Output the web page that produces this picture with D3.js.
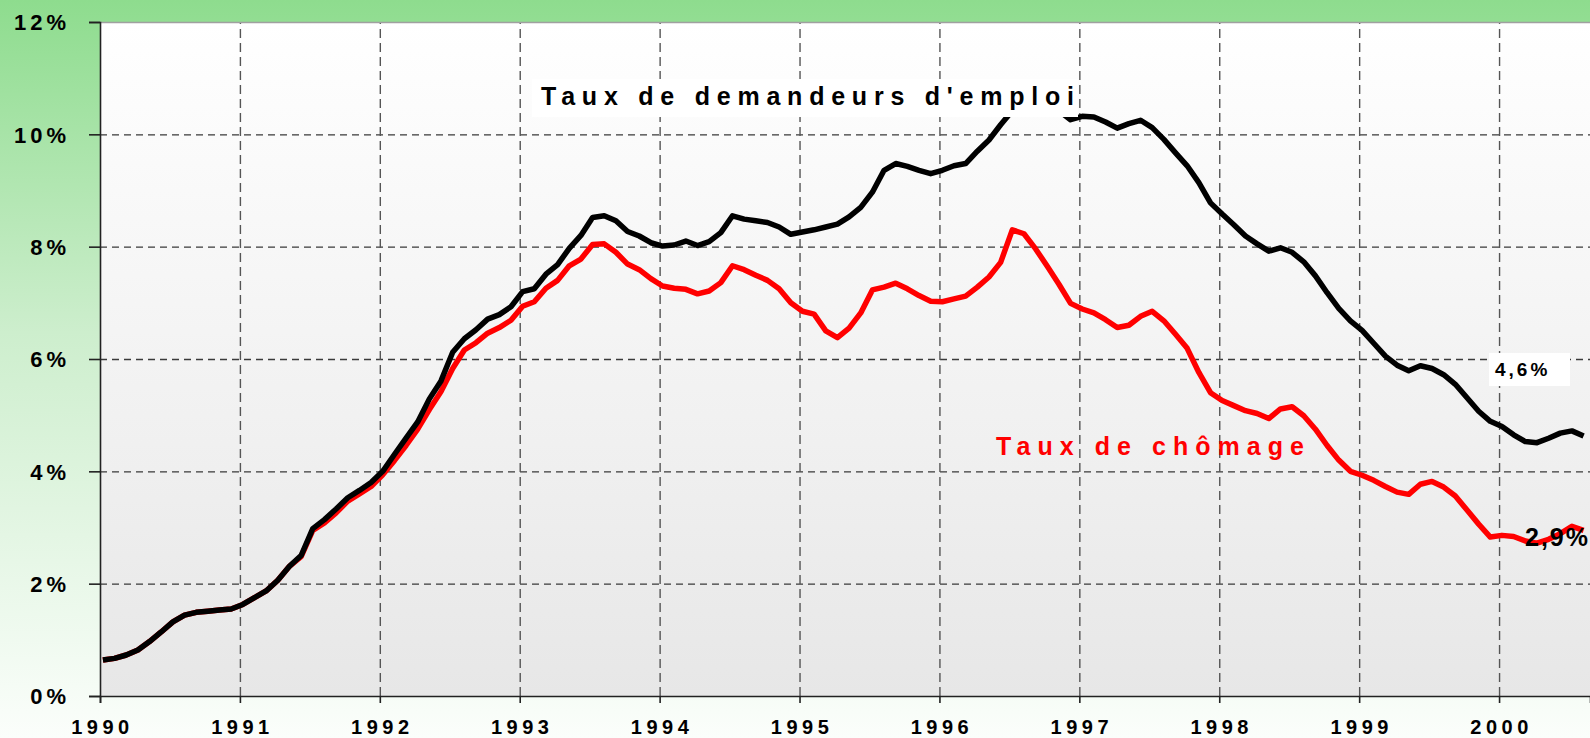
<!DOCTYPE html>
<html>
<head>
<meta charset="utf-8">
<script src="https://cdn.jsdelivr.net/npm/d3@7"></script>
<style>
  body { margin: 0; overflow: hidden; }
  svg { display: block; font-family: "Liberation Sans", Arial, sans-serif; }
</style>
</head>
<body>
<div id="chart"></div>
<script>
// Données mensuelles, janvier 1990 -> août 2000
const startYear = 1990;
const demandeurs = [
  0.64, 0.67, 0.73, 0.82, 0.97, 1.14, 1.32, 1.44, 1.49, 1.51, 1.53, 1.55,
  1.63, 1.75, 1.87, 2.06, 2.31, 2.50, 2.98, 3.14, 3.33, 3.53, 3.66, 3.80,
  4.00, 4.30, 4.59, 4.88, 5.29, 5.61, 6.12, 6.36, 6.52, 6.71, 6.79, 6.93,
  7.20, 7.25, 7.51, 7.68, 7.97, 8.20, 8.52, 8.55, 8.46, 8.27, 8.19, 8.07,
  8.01, 8.03, 8.10, 8.02, 8.09, 8.25, 8.55, 8.49, 8.46, 8.43, 8.35, 8.22,
  8.26, 8.30, 8.35, 8.40, 8.53, 8.70, 8.97, 9.36, 9.48, 9.43, 9.36, 9.30,
  9.36, 9.44, 9.48, 9.70, 9.90, 10.17, 10.42, 10.58, 10.62, 10.55, 10.42, 10.26,
  10.32, 10.31, 10.22, 10.11, 10.19, 10.25, 10.12, 9.91, 9.67, 9.44, 9.14, 8.78,
  8.58, 8.39, 8.19, 8.05, 7.92, 7.98, 7.90, 7.73, 7.48, 7.18, 6.90, 6.68,
  6.51, 6.28, 6.05, 5.89, 5.79, 5.88, 5.83, 5.72, 5.55, 5.31, 5.07, 4.89,
  4.80, 4.65, 4.53, 4.51, 4.59, 4.68, 4.72, 4.63
];
const chomage = [
  0.64, 0.67, 0.73, 0.82, 0.97, 1.14, 1.32, 1.44, 1.49, 1.51, 1.53, 1.55,
  1.63, 1.75, 1.87, 2.06, 2.31, 2.48, 2.95, 3.08, 3.26, 3.47, 3.60, 3.73,
  3.94, 4.19, 4.46, 4.75, 5.10, 5.42, 5.83, 6.16, 6.29, 6.46, 6.56, 6.69,
  6.94, 7.02, 7.26, 7.40, 7.66, 7.78, 8.04, 8.05, 7.90, 7.69, 7.59, 7.43,
  7.30, 7.26, 7.24, 7.16, 7.21, 7.36, 7.66, 7.59, 7.49, 7.40, 7.25, 7.00,
  6.85, 6.80, 6.50, 6.38, 6.55, 6.82, 7.23, 7.28, 7.35, 7.25, 7.13, 7.03,
  7.02, 7.07, 7.12, 7.28, 7.46, 7.72, 8.30, 8.23, 7.96, 7.65, 7.33, 6.99,
  6.89, 6.82, 6.70, 6.56, 6.60, 6.76, 6.85, 6.68, 6.44, 6.19, 5.76, 5.40,
  5.26, 5.17, 5.08, 5.03, 4.94, 5.11, 5.15, 4.99, 4.75, 4.46, 4.20, 4.00,
  3.93, 3.84, 3.73, 3.63, 3.59, 3.77, 3.82, 3.72, 3.56, 3.31, 3.06, 2.83,
  2.86, 2.84, 2.76, 2.72, 2.79, 2.89, 3.02, 2.95
];
const years = [1990, 1991, 1992, 1993, 1994, 1995, 1996, 1997, 1998, 1999, 2000];
const yTicks = [0, 2, 4, 6, 8, 10, 12];
const labelDemandeurs = "Taux de demandeurs d'emploi";
const labelChomage = "Taux de chômage";
const lastDemandeurs = "4,6%";
const lastChomage = "2,9%";

const width = 1590;
const height = 738;
const plot = { left: 100, right: 1590, top: 22, bottom: 696 };

const svg = d3
  .select("#chart")
  .append("svg")
  .attr("width", width)
  .attr("height", height);

const defs = svg.append("defs");
const bg = defs.append("linearGradient").attr("id", "bg").attr("x1", 0).attr("y1", 0).attr("x2", 0).attr("y2", 1);
bg.append("stop").attr("offset", 0).attr("stop-color", "#8edc8e");
bg.append("stop").attr("offset", 0.45).attr("stop-color", "#cdeecd");
bg.append("stop").attr("offset", 1).attr("stop-color", "#fbfefb");
const pg = defs.append("linearGradient").attr("id", "pg").attr("x1", 0).attr("y1", 0).attr("x2", 0).attr("y2", 1);
pg.append("stop").attr("offset", 0).attr("stop-color", "#ffffff");
pg.append("stop").attr("offset", 1).attr("stop-color", "#e7e7e7");

svg.append("rect").attr("width", width).attr("height", height).attr("fill", "url(#bg)");
svg
  .append("rect")
  .attr("x", plot.left)
  .attr("y", plot.top)
  .attr("width", plot.right - plot.left)
  .attr("height", plot.bottom - plot.top)
  .attr("fill", "url(#pg)");

// Échelles
const x = d3.scaleLinear().domain([1990, 2000.65]).range([plot.left, plot.right]);
const y = d3.scaleLinear().domain([0, 12]).range([plot.bottom, plot.top]);
const t = (i) => startYear + (i + 0.25) / 12;

// Grille
svg
  .append("g")
  .attr("transform", `translate(${plot.left},0)`)
  .call(d3.axisLeft(y).tickValues(yTicks.slice(1, -1)).tickSize(-(plot.right - plot.left)).tickFormat(""))
  .call((g) => g.select(".domain").remove())
  .selectAll("line")
  .attr("stroke", "#3a3a3a")
  .attr("stroke-width", 1.3)
  .attr("stroke-dasharray", "7,5");

svg
  .append("g")
  .attr("transform", `translate(0,${plot.bottom})`)
  .call(d3.axisBottom(x).tickValues(years.slice(1)).tickSize(-(plot.bottom - plot.top)).tickFormat(""))
  .call((g) => g.select(".domain").remove())
  .selectAll("line")
  .attr("stroke", "#555")
  .attr("stroke-width", 1.4)
  .attr("stroke-dasharray", "9,5");

// bord haut
svg
  .append("line")
  .attr("x1", plot.left)
  .attr("x2", plot.right)
  .attr("y1", plot.top + 0.5)
  .attr("y2", plot.top + 0.5)
  .attr("stroke", "#a0a0a0")
  .attr("stroke-width", 1.5);

// Axes
const yAxis = svg
  .append("g")
  .attr("transform", `translate(${plot.left},0)`)
  .call(d3.axisLeft(y).tickValues(yTicks).tickSize(11).tickPadding(0).tickFormat((d) => d + "%"));
yAxis.select(".domain").attr("stroke", "#222").attr("stroke-width", 1.6);
yAxis.selectAll("line").attr("stroke", "#222").attr("stroke-width", 1.6);
yAxis
  .selectAll("text")
  .attr("x", -30)
  .attr("dy", "0.36em")
  .style("font-size", "22px")
  .style("font-weight", "bold")
  .style("letter-spacing", "4px")
  .attr("fill", "#000");

const xAxis = svg
  .append("g")
  .attr("transform", `translate(0,${plot.bottom})`)
  .call(d3.axisBottom(x).tickValues(years).tickSize(7).tickFormat((d) => d));
xAxis.select(".domain").attr("stroke", "#222").attr("stroke-width", 1.6);
xAxis.selectAll("line").attr("stroke", "#222").attr("stroke-width", 1.6);
xAxis
  .selectAll("text")
  .attr("y", 38)
  .attr("dy", 0)
  .attr("dx", 2)
  .style("font-size", "20px")
  .style("font-weight", "bold")
  .style("letter-spacing", "4.5px")
  .attr("fill", "#000");

// Courbes
const line = d3
  .line()
  .x((d, i) => x(t(i)))
  .y((d) => y(d));

svg
  .append("path")
  .datum(chomage)
  .attr("d", line)
  .attr("fill", "none")
  .attr("stroke", "#ff0000")
  .attr("stroke-width", 5.5)
  .attr("stroke-linejoin", "round");

svg
  .append("path")
  .datum(demandeurs)
  .attr("d", line)
  .attr("fill", "none")
  .attr("stroke", "#000")
  .attr("stroke-width", 5.5)
  .attr("stroke-linejoin", "round");

// Étiquettes
svg.append("rect").attr("x", 532).attr("y", 79).attr("width", 546).attr("height", 38).attr("fill", "#fff");
svg
  .append("text")
  .attr("x", 541)
  .attr("y", 105)
  .attr("textLength", 533)
  .attr("lengthAdjust", "spacing")
  .style("font-size", "25px")
  .style("font-weight", "bold")
  .attr("fill", "#000")
  .text(labelDemandeurs);

svg
  .append("text")
  .attr("x", 996)
  .attr("y", 455)
  .attr("textLength", 308)
  .attr("lengthAdjust", "spacing")
  .style("font-size", "25px")
  .style("font-weight", "bold")
  .attr("fill", "#ff0000")
  .text(labelChomage);

svg.append("rect").attr("x", 1489).attr("y", 353).attr("width", 81).attr("height", 33).attr("fill", "#fff");
svg
  .append("text")
  .attr("x", 1495)
  .attr("y", 376)
  .style("font-size", "19px")
  .style("font-weight", "bold")
  .style("letter-spacing", "3px")
  .attr("fill", "#000")
  .text(lastDemandeurs);

svg
  .append("text")
  .attr("x", 1525)
  .attr("y", 546)
  .style("font-size", "25px")
  .style("font-weight", "bold")
  .style("letter-spacing", "2px")
  .attr("fill", "#000")
  .text(lastChomage);
</script>
</body>
</html>
